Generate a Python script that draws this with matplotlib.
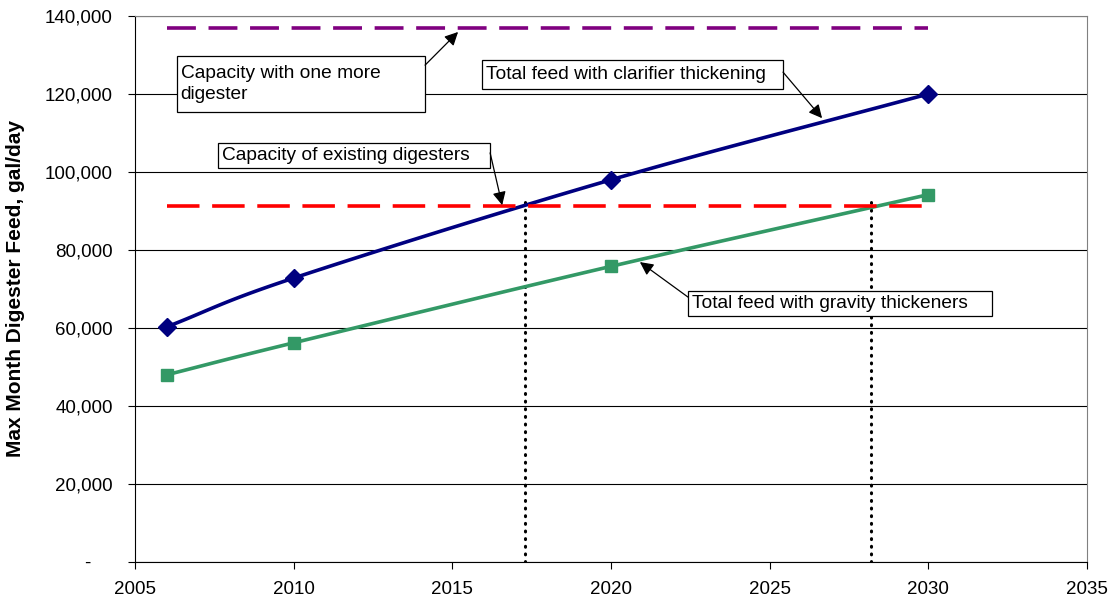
import numpy as np
import matplotlib.pyplot as plt
from matplotlib.patches import Rectangle
from matplotlib.ticker import FuncFormatter

plt.rcParams['font.family'] = ['Liberation Sans', 'DejaVu Sans']

# Datos
anios = [2006, 2010, 2020, 2030]
clarificador = [60300, 72800, 98000, 120000]
gravedad = [48000, 56200, 75800, 94200]
cap_existente = [91300, 91300]
cap_un_mas = [137000, 137000]
anios_cap = [2006, 2030]
cruces = [2017.3, 2028.2]
altura_cruce = 93800


def suavizar(x, y, n=30):
    # curva suavizada tipo Excel (Catmull-Rom)
    x = np.asarray(x, float)
    y = np.asarray(y, float)
    px = np.concatenate([[2 * x[0] - x[1]], x, [2 * x[-1] - x[-2]]])
    py = np.concatenate([[2 * y[0] - y[1]], y, [2 * y[-1] - y[-2]]])
    xs, ys = [], []
    for i in range(1, len(px) - 2):
        t = np.linspace(0, 1, n)
        for p, out in ((px, xs), (py, ys)):
            p0, p1, p2, p3 = p[i - 1], p[i], p[i + 1], p[i + 2]
            out.extend(0.5 * ((2 * p1) + (-p0 + p2) * t
                              + (2 * p0 - 5 * p1 + 4 * p2 - p3) * t ** 2
                              + (-p0 + 3 * p1 - 3 * p2 + p3) * t ** 3))
    return xs, ys


fig = plt.figure(figsize=(11.14, 6.01), dpi=100)
ax = fig.add_axes([0.1212, 0.0649, 0.8546, 0.9085])

ax.set_xlim(2005, 2035)
ax.set_ylim(0, 140000)
ax.set_yticks(np.arange(0, 140001, 20000))
ax.set_xticks(np.arange(2005, 2036, 5))
ax.yaxis.set_major_formatter(FuncFormatter(lambda v, p: '-    ' if v == 0 else f'{int(v):,}'))
ax.grid(axis='y', color='black', linewidth=0.8)
ax.set_axisbelow(True)
for lado in ['top', 'right']:
    ax.spines[lado].set_color('#808080')
ax.tick_params(labelsize=13.5, direction='out', length=5)
ax.tick_params(axis='y', pad=11)
ax.tick_params(axis='x', pad=9)
ax.set_ylabel('Max Month Digester Feed, gal/day', fontsize=15, fontweight='bold', labelpad=14)

xs, ys = suavizar(anios, clarificador)
ax.plot(xs, ys, color='#000080', linewidth=2.6, zorder=3)
ax.plot(anios, clarificador, linestyle='none', marker='D', color='#000080', markersize=9, zorder=4)
xs, ys = suavizar(anios, gravedad)
ax.plot(xs, ys, color='#339966', linewidth=2.6, zorder=3)
ax.plot(anios, gravedad, linestyle='none', marker='s', color='#339966', markersize=8, zorder=4)

ax.plot(anios_cap, cap_existente, color='#FF0000', linewidth=2.6, dashes=(9, 3.5), zorder=3)
ax.plot(anios_cap, cap_un_mas, color='#800080', linewidth=2.6, dashes=(8, 3.5), zorder=3)

for c in cruces:
    ax.plot([c, c], [0, altura_cruce], color='black', linewidth=2.2, linestyle=(0, (0.3, 2.2)),
            dash_capstyle='round', zorder=2)

# cajas de texto con flechas: (texto, caja x0, x1, y0, y1, inicio flecha, punta)
notas = [
    ('Capacity with one more\ndigester', 2006.32, 2014.14, 115400, 129700,
     (2014.14, 127400), (2015.18, 135900)),
    ('Total feed with clarifier thickening', 2015.94, 2025.42, 121300, 128700,
     (2025.42, 125600), (2026.65, 113800)),
    ('Capacity of existing digesters', 2007.62, 2016.19, 101000, 107400,
     (2016.19, 104900), (2016.57, 91500)),
    ('Total feed with gravity thickeners', 2022.43, 2032.01, 63100, 69500,
     (2022.43, 67900), (2020.91, 76900)),
]
for texto, x0, x1, y0, y1, ini, punta in notas:
    ax.add_patch(Rectangle((x0, y0), x1 - x0, y1 - y0, facecolor='white', edgecolor='black',
                           linewidth=0.9, zorder=5))
    ax.text(x0 + 0.12, (y0 + y1) / 2, texto, fontsize=13.8, ha='left', va='center',
            linespacing=1.35, zorder=6)
    ax.annotate('', xy=punta, xytext=ini,
                arrowprops=dict(arrowstyle='-|>', color='black', linewidth=0.9,
                                mutation_scale=20, shrinkA=0, shrinkB=0), zorder=6)

plt.savefig('out.png', dpi=100)
